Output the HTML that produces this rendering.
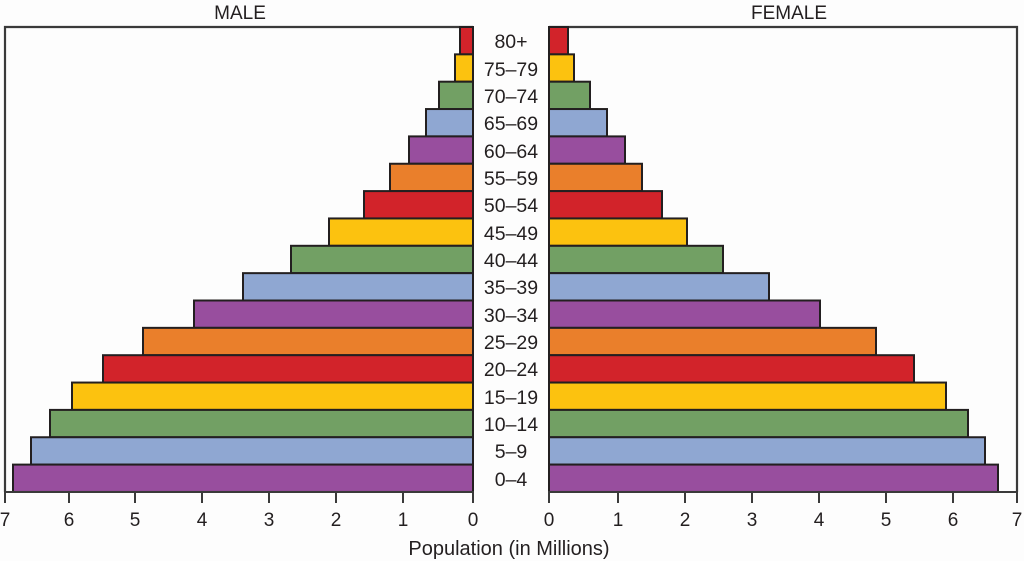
<!DOCTYPE html>
<html><head><meta charset="utf-8"><style>
html,body{margin:0;padding:0;background:#fdfdfd;}
svg{display:block;font-family:"Liberation Sans",sans-serif;}
</style></head><body>
<svg width="1024" height="561" viewBox="0 0 1024 561">
<rect width="1024" height="561" fill="#fdfdfd"/>
<g font-size="19" fill="#231f20" text-anchor="middle">
<text x="240" y="19">MALE</text>
<text x="789" y="19">FEMALE</text>
</g>
<g fill="none" stroke="#3a3a3a" stroke-width="2.2">
<path d="M473 27 H5 V492"/>
<path d="M549 27 H1017 V492"/>
</g>
<g stroke="#231f20" stroke-width="2">
<rect x="460" y="27" width="13" height="27.35" fill="#d2232a"/>
<rect x="455" y="54.35" width="18" height="27.35" fill="#fcc20f"/>
<rect x="439" y="81.7" width="34" height="27.35" fill="#72a064"/>
<rect x="426" y="109.05" width="47" height="27.35" fill="#8fa7d2"/>
<rect x="409" y="136.4" width="64" height="27.35" fill="#984e9e"/>
<rect x="390" y="163.75" width="83" height="27.35" fill="#ea7f2b"/>
<rect x="364" y="191.1" width="109" height="27.35" fill="#d2232a"/>
<rect x="329" y="218.45" width="144" height="27.35" fill="#fcc20f"/>
<rect x="291" y="245.8" width="182" height="27.35" fill="#72a064"/>
<rect x="243" y="273.15" width="230" height="27.35" fill="#8fa7d2"/>
<rect x="194" y="300.5" width="279" height="27.35" fill="#984e9e"/>
<rect x="143" y="327.85" width="330" height="27.35" fill="#ea7f2b"/>
<rect x="103" y="355.2" width="370" height="27.35" fill="#d2232a"/>
<rect x="72" y="382.55" width="401" height="27.35" fill="#fcc20f"/>
<rect x="50" y="409.9" width="423" height="27.35" fill="#72a064"/>
<rect x="31" y="437.25" width="442" height="27.35" fill="#8fa7d2"/>
<rect x="13" y="464.6" width="460" height="27.35" fill="#984e9e"/>

<rect x="549" y="27" width="19" height="27.35" fill="#d2232a"/>
<rect x="549" y="54.35" width="25" height="27.35" fill="#fcc20f"/>
<rect x="549" y="81.7" width="41" height="27.35" fill="#72a064"/>
<rect x="549" y="109.05" width="58" height="27.35" fill="#8fa7d2"/>
<rect x="549" y="136.4" width="76" height="27.35" fill="#984e9e"/>
<rect x="549" y="163.75" width="93" height="27.35" fill="#ea7f2b"/>
<rect x="549" y="191.1" width="113" height="27.35" fill="#d2232a"/>
<rect x="549" y="218.45" width="138" height="27.35" fill="#fcc20f"/>
<rect x="549" y="245.8" width="174" height="27.35" fill="#72a064"/>
<rect x="549" y="273.15" width="220" height="27.35" fill="#8fa7d2"/>
<rect x="549" y="300.5" width="271" height="27.35" fill="#984e9e"/>
<rect x="549" y="327.85" width="327" height="27.35" fill="#ea7f2b"/>
<rect x="549" y="355.2" width="365" height="27.35" fill="#d2232a"/>
<rect x="549" y="382.55" width="397" height="27.35" fill="#fcc20f"/>
<rect x="549" y="409.9" width="419" height="27.35" fill="#72a064"/>
<rect x="549" y="437.25" width="436" height="27.35" fill="#8fa7d2"/>
<rect x="549" y="464.6" width="449" height="27.35" fill="#984e9e"/>
</g>
<g stroke="#3a3a3a" stroke-width="2">
<line x1="4" y1="492" x2="474" y2="492"/>
<line x1="548" y1="492" x2="1018" y2="492"/>
<line x1="5" y1="492" x2="5" y2="503"/><line x1="69" y1="492" x2="69" y2="503"/><line x1="135" y1="492" x2="135" y2="503"/><line x1="202" y1="492" x2="202" y2="503"/><line x1="269" y1="492" x2="269" y2="503"/><line x1="336" y1="492" x2="336" y2="503"/><line x1="403" y1="492" x2="403" y2="503"/><line x1="473" y1="492" x2="473" y2="503"/>
<line x1="549" y1="492" x2="549" y2="503"/><line x1="618" y1="492" x2="618" y2="503"/><line x1="685" y1="492" x2="685" y2="503"/><line x1="752" y1="492" x2="752" y2="503"/><line x1="819" y1="492" x2="819" y2="503"/><line x1="886" y1="492" x2="886" y2="503"/><line x1="953" y1="492" x2="953" y2="503"/><line x1="1017" y1="492" x2="1017" y2="503"/>
</g>
<g font-size="19" fill="#231f20" text-anchor="middle">
<text x="5" y="526">7</text><text x="69" y="526">6</text><text x="135" y="526">5</text><text x="202" y="526">4</text><text x="269" y="526">3</text><text x="336" y="526">2</text><text x="403" y="526">1</text><text x="473" y="526">0</text>
<text x="549" y="526">0</text><text x="618" y="526">1</text><text x="685" y="526">2</text><text x="752" y="526">3</text><text x="819" y="526">4</text><text x="886" y="526">5</text><text x="953" y="526">6</text><text x="1017" y="526">7</text>
<text x="509" y="555" font-size="20">Population (in Millions)</text>
</g>
<g font-size="19.5" fill="#231f20" text-anchor="middle">
<text x="511" y="48">80+</text>
<text x="511" y="76">75–79</text>
<text x="511" y="103">70–74</text>
<text x="511" y="130">65–69</text>
<text x="511" y="158">60–64</text>
<text x="511" y="185">55–59</text>
<text x="511" y="212">50–54</text>
<text x="511" y="240">45–49</text>
<text x="511" y="267">40–44</text>
<text x="511" y="294">35–39</text>
<text x="511" y="322">30–34</text>
<text x="511" y="349">25–29</text>
<text x="511" y="376">20–24</text>
<text x="511" y="404">15–19</text>
<text x="511" y="431">10–14</text>
<text x="511" y="458">5–9</text>
<text x="511" y="486">0–4</text>
</g>
</svg>
</body></html>
